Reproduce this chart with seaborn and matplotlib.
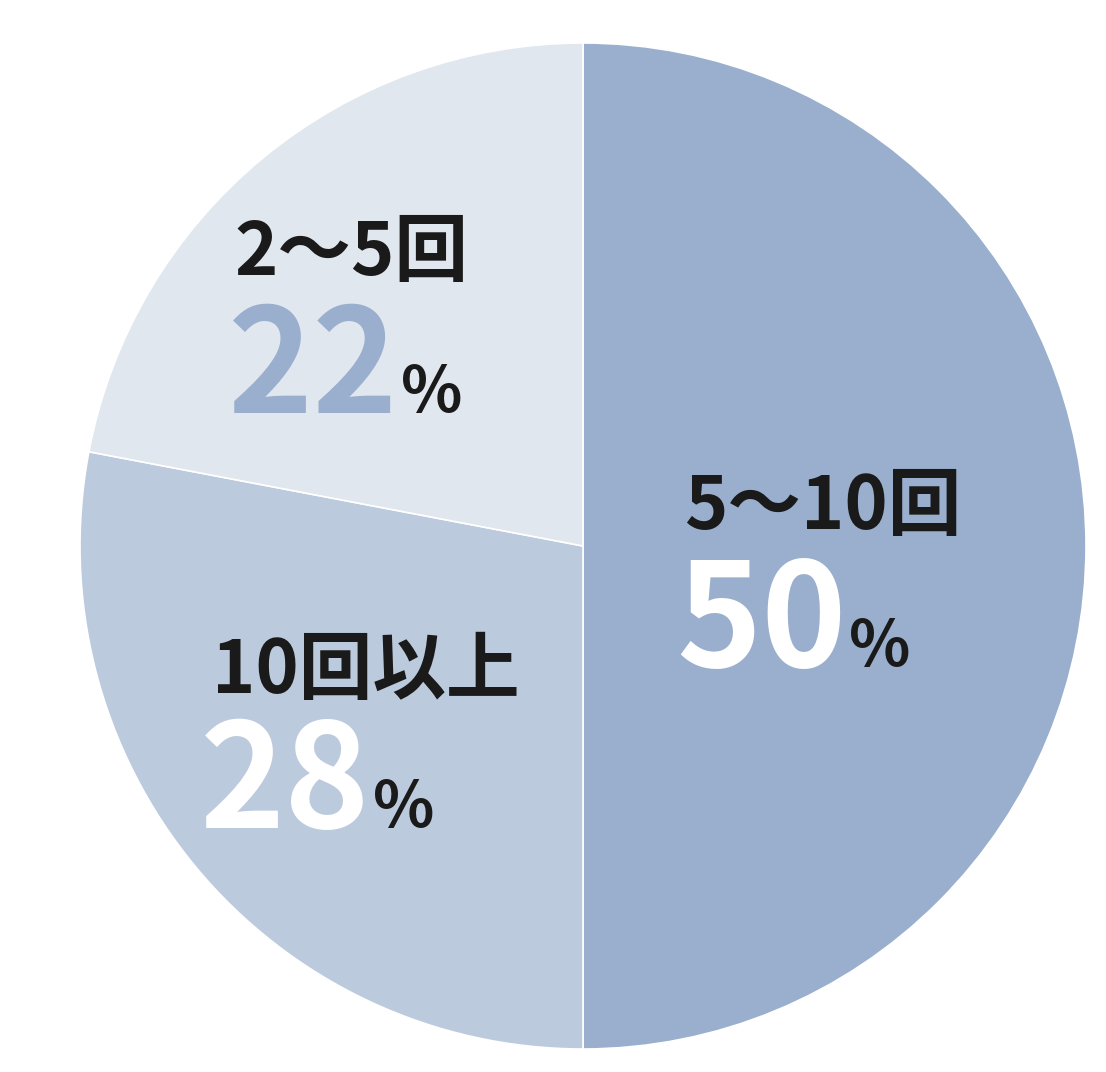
import matplotlib
matplotlib.use("Agg")
import matplotlib.pyplot as plt
import seaborn as sns

labels = ["5〜10回", "10回以上", "2〜5回"]
shares = [50, 28, 22]
slice_colors = ["#9aafcd", "#bccadd", "#e1e7ef"]
number_colors = ["white", "white", "#9aafcd"]

sns.set_style("white")
plt.rcParams['font.family'] = ['Noto Sans CJK JP', 'DejaVu Sans']

W, H = 1106, 1072
fig = plt.figure(figsize=(W / 100, H / 100), dpi=100)
ax = fig.add_axes([0, 0, 1, 1])

# pie centre / radius in pixel units (y flipped)
cx, cy, r = 583, H - 546, 503
ax.pie(shares, colors=slice_colors, startangle=90, counterclock=False,
       center=(cx, cy), radius=r,
       wedgeprops=dict(edgecolor="white", linewidth=1.2))
ax.set_xlim(0, W)
ax.set_ylim(0, H)
ax.set_aspect("equal")
ax.axis("off")

# label anchors: (label x, label baseline, number x, number baseline)
anchors = [
    (684, 529, 676, 667),
    (212, 693, 200, 828),
    (234, 275, 228, 413),
]

for lab, v, nc, (lx, ly, nx, ny) in zip(labels, shares, number_colors, anchors):
    ax.text(lx, H - ly, lab, fontsize=53, fontweight="bold", color="#1a1a1a",
            ha="left", va="baseline")
    num = ax.text(nx, H - ny, str(v), fontsize=104, fontweight="bold", color=nc,
                  ha="left", va="baseline")
    ax.annotate("%", xy=(1, 0), xycoords=num, xytext=(2, 13),
                textcoords="offset points", fontsize=46, fontweight="bold",
                color="#1a1a1a", ha="left", va="bottom")

fig.savefig("out.png", dpi=100, facecolor="white")
